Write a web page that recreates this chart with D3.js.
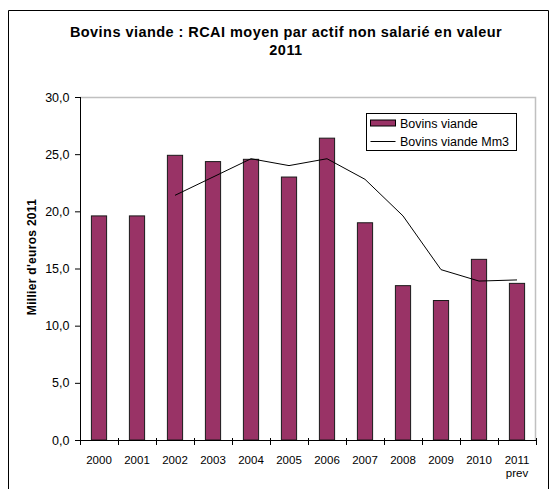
<!DOCTYPE html>
<html>
<head>
<meta charset="utf-8">
<script src="https://cdn.jsdelivr.net/npm/d3@7"></script>
<style>
  body { margin: 0; background: #fff; }
  svg text { font-family: "Liberation Sans", Arial, sans-serif; fill: #000; }
  .axis path, .axis line { stroke: #000; }
</style>
</head>
<body>
<div class="chart"></div>
<script>
// data
var years = ['2000','2001','2002','2003','2004','2005','2006','2007','2008','2009','2010','2011'];
var barValues = [19.6, 19.6, 24.9, 24.35, 24.55, 23.0, 26.4, 19.0, 13.5, 12.2, 15.8, 13.7];
var mm3Values = [null, null, 21.4, 23.0, 24.6, 24.0, 24.6, 22.8, 19.6, 14.9, 13.9, 14.0];
var yTicks = [0, 5, 10, 15, 20, 25, 30];
var seriesNames = ['Bovins viande', 'Bovins viande Mm3'];

var ww = 557, hh = 489
  , margin = {top: 97, right: 21, bottom: 49, left: 80}
  , width = ww - margin.left - margin.right
  , height = hh - margin.top - margin.bottom;

var svgm = d3.select('.chart').append('svg')
  .attr('width', ww)
  .attr('height', hh);

// outer chart frame
svgm.append('path')
  .attr('d', 'M8.5,' + hh + 'V10.5H548.5V' + hh)
  .attr('fill', 'none')
  .attr('stroke', '#000')
  .attr('stroke-width', 1);

svgm.append('text')
  .attr('x', 286).attr('y', 37)
  .attr('text-anchor', 'middle')
  .style('font-size', '14.5px').style('font-weight', 'bold').style('letter-spacing', '0.45px')
  .text('Bovins viande : RCAI moyen par actif non salarié en valeur');
svgm.append('text')
  .attr('x', 286).attr('y', 55)
  .attr('text-anchor', 'middle')
  .style('font-size', '14.5px').style('font-weight', 'bold').style('letter-spacing', '0.45px')
  .text('2011');

svgm.append('text')
  .attr('transform', 'translate(36,257) rotate(-90)')
  .attr('text-anchor', 'middle')
  .style('font-size', '12px').style('font-weight', 'bold').style('letter-spacing', '0.3px')
  .text("Millier d'euros 2011");

var svg = svgm.append('g')
  .attr('transform', `translate(${margin.left},${margin.top})`);

var x = d3.scaleBand().domain(years).range([0, width]).paddingInner(0.6).paddingOuter(0.3)
  , y = d3.scaleLinear().domain([0, 30]).range([height, 0]);

// plot area border (grey, top and right)
svg.append('path')
  .attr('d', `M0,0.5H${width - 0.5}V${height}`)
  .attr('fill', 'none')
  .attr('stroke', '#c0c0c0')
  .attr('stroke-width', 1.5);

// bars
svg.selectAll('rect.bar')
  .data(barValues)
  .enter().append('rect')
  .attr('class', 'bar')
  .attr('x', (d, i) => x(years[i]))
  .attr('y', d => y(d))
  .attr('width', x.bandwidth())
  .attr('height', d => height - y(d))
  .attr('fill', '#993366')
  .attr('stroke', '#1a1a1a')
  .attr('stroke-width', 1);

// moving average line
var line = d3.line()
  .defined(d => d != null)
  .x((d, i) => x(years[i]) + x.bandwidth() / 2)
  .y(d => y(d));
svg.append('path')
  .datum(mm3Values)
  .attr('d', line)
  .attr('fill', 'none')
  .attr('stroke', '#000')
  .attr('stroke-width', 1);

// y axis
var yAxis = d3.axisLeft(y)
  .tickValues(yTicks)
  .tickSize(5)
  .tickPadding(5.5)
  .tickFormat(d => d3.format('.1f')(d).replace('.', ','));
var gy = svg.append('g').attr('class', 'axis').call(yAxis);
gy.select('.domain').attr('d', `M0.5,0V${height}`);
gy.selectAll('text').style('font-size', '12.5px');

// x axis: ticks at category boundaries
var gx = svg.append('g').attr('class', 'axis')
  .attr('transform', `translate(0,${height})`);
gx.append('line')
  .attr('x1', 0).attr('x2', width)
  .attr('y1', 0.5).attr('y2', 0.5)
  .attr('stroke', '#000');
var step = x.step();
gx.selectAll('line.tk')
  .data(d3.range(years.length + 1))
  .enter().append('line')
  .attr('class', 'tk')
  .attr('x1', i => Math.round(x(years[0]) - x.bandwidth() * 0.75 + i * step) + 0.5)
  .attr('x2', i => Math.round(x(years[0]) - x.bandwidth() * 0.75 + i * step) + 0.5)
  .attr('y1', -2).attr('y2', 5)
  .attr('stroke', '#000');
gx.selectAll('text.lab')
  .data(years)
  .enter().append('text')
  .attr('class', 'lab')
  .attr('x', d => x(d) + x.bandwidth() / 2)
  .attr('y', 23.5)
  .attr('text-anchor', 'middle')
  .style('font-size', '11.5px')
  .text(d => d);
gx.append('text')
  .attr('x', x('2011') + x.bandwidth() / 2)
  .attr('y', 37)
  .attr('text-anchor', 'middle')
  .style('font-size', '11.5px')
  .text('prev');

// legend
var lg = svgm.append('g').attr('transform', 'translate(366.5,113.5)');
lg.append('rect')
  .attr('width', 150).attr('height', 37)
  .attr('fill', '#fff').attr('stroke', '#000');
lg.append('rect')
  .attr('x', 4).attr('y', 6.5).attr('width', 25).attr('height', 6)
  .attr('fill', '#993366').attr('stroke', '#000');
lg.append('line')
  .attr('x1', 4).attr('x2', 29).attr('y1', 28).attr('y2', 28)
  .attr('stroke', '#000');
lg.selectAll('text')
  .data(seriesNames)
  .enter().append('text')
  .attr('x', 33.5)
  .attr('y', (d, i) => 14 + i * 18.3)
  .style('font-size', '12.5px')
  .text(d => d);
</script>
</body>
</html>
